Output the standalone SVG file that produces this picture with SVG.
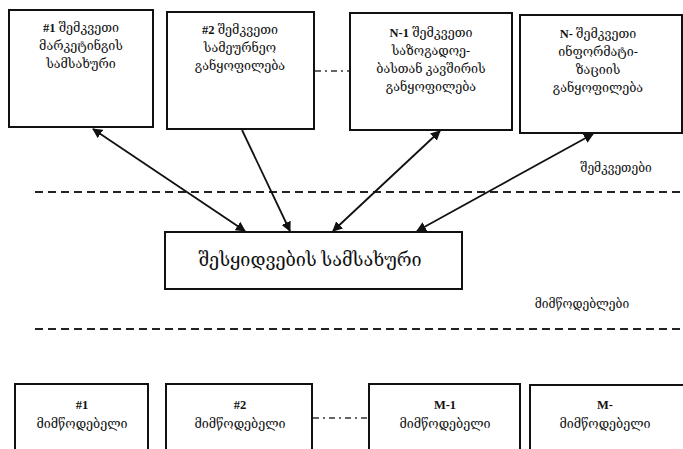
<svg xmlns="http://www.w3.org/2000/svg" width="683" height="449" viewBox="0 0 683 449">
<defs>
<marker id="ah" viewBox="0 0 10 10" refX="9" refY="5" markerWidth="10" markerHeight="10" markerUnits="userSpaceOnUse" orient="auto-start-reverse">
<path d="M0,0 L10,5 L0,10 z" fill="#111"/>
</marker>
<style>
.box{fill:#fff;stroke:#111;stroke-width:2}
.t{font-family:"Liberation Serif","DejaVu Serif","DejaVu Sans",serif;font-size:12.5px;fill:#111;text-anchor:middle}
.b{font-weight:bold}
.big{font-size:18px}
.lab{font-family:"Liberation Serif","DejaVu Serif","DejaVu Sans",serif;font-size:12px;fill:#111;text-anchor:middle}
.dash{stroke:#222;stroke-width:2;stroke-dasharray:8,5;fill:none}
.dd{stroke:#333;stroke-width:1.5;stroke-dasharray:6,4,2,4;fill:none}
.c{stroke:#111;stroke-width:1.8;fill:none}
</style>
</defs>
<rect width="683" height="449" fill="#fff"/>

<g id="customer1">
<rect class="box" x="9" y="10" width="144" height="117"/>
<text class="t" x="81" y="32"><tspan class="b">#1</tspan> შემკვეთი</text>
<text class="t" x="81" y="50">მარკეტინგის</text>
<text class="t" x="81" y="68">სამსახური</text>
</g>
<g id="customer2">
<rect class="box" x="167" y="12" width="147" height="117"/>
<text class="t" x="240" y="34"><tspan class="b">#2</tspan> შემკვეთი</text>
<text class="t" x="240" y="52">სამეურნეო</text>
<text class="t" x="240" y="70">განყოფილება</text>
</g>
<g id="customerN1">
<rect class="box" x="350" y="13" width="162" height="117"/>
<text class="t" x="431" y="37"><tspan class="b">N-1</tspan> შემკვეთი</text>
<text class="t" x="431" y="55">საზოგადოე-</text>
<text class="t" x="431" y="73">ბასთან კავშირის</text>
<text class="t" x="431" y="91">განყოფილება</text>
</g>
<g id="customerN">
<rect class="box" x="520" y="15" width="162" height="118"/>
<text class="t" x="598" y="38"><tspan class="b">N-</tspan> შემკვეთი</text>
<text class="t" x="598" y="56">ინფორმატი-</text>
<text class="t" x="598" y="74">ზაციის</text>
<text class="t" x="598" y="92">განყოფილება</text>
</g>

<g id="procurement">
<rect class="box" x="165" y="232" width="297" height="57"/>
<text class="t big" x="310" y="266">შესყიდვების სამსახური</text>
</g>

<g id="supplier1">
<rect class="box" x="15" y="384" width="133" height="70"/>
<text class="t b" x="82" y="409">#1</text>
<text class="t" x="82" y="428">მიმწოდებელი</text>
</g>
<g id="supplier2">
<rect class="box" x="166" y="384" width="146" height="70"/>
<text class="t b" x="240" y="409">#2</text>
<text class="t" x="240" y="428">მიმწოდებელი</text>
</g>
<g id="supplierM1">
<rect class="box" x="369" y="384" width="151" height="70"/>
<text class="t b" x="445" y="409">M-1</text>
<text class="t" x="445" y="428">მიმწოდებელი</text>
</g>
<g id="supplierM">
<rect class="box" x="530" y="385" width="160" height="70"/>
<text class="t b" x="605" y="409">M-</text>
<text class="t" x="605" y="428">მიმწოდებელი</text>
</g>

<g id="labels">
<text class="lab" x="616" y="172">შემკვეთები</text>
<text class="lab" x="582" y="308">მიმწოდებლები</text>
</g>

<g id="connectors">
<line class="dash" x1="35" y1="192" x2="683" y2="192"/>
<line class="dash" x1="35" y1="329" x2="683" y2="329"/>
<line class="dd" x1="315" y1="71" x2="349" y2="71"/>
<line class="dd" x1="313" y1="418" x2="368" y2="418"/>
<line class="c" x1="93" y1="129" x2="245" y2="231" marker-start="url(#ah)" marker-end="url(#ah)"/>
<line class="c" x1="242" y1="130" x2="290" y2="231" marker-end="url(#ah)"/>
<line class="c" x1="440" y1="131" x2="333" y2="231" marker-start="url(#ah)" marker-end="url(#ah)"/>
<line class="c" x1="593" y1="134" x2="417" y2="231" marker-start="url(#ah)" marker-end="url(#ah)"/>
</g>
</svg>
